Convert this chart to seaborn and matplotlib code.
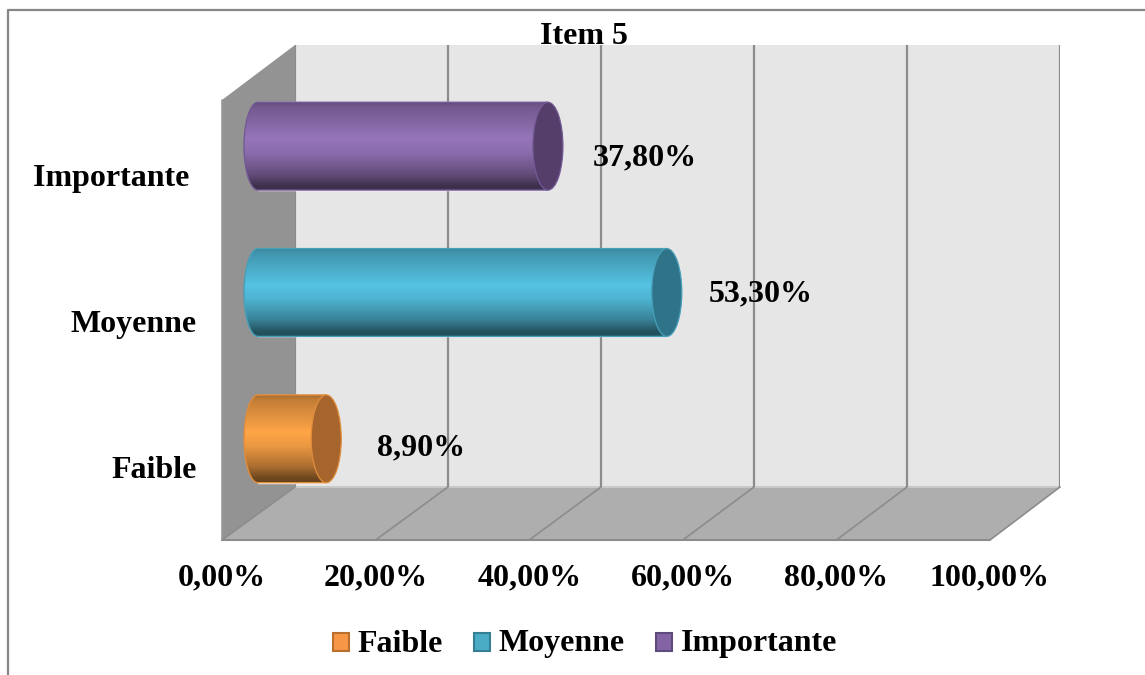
import numpy as np
import pandas as pd
import seaborn as sns
import matplotlib
matplotlib.use("Agg")
import matplotlib.pyplot as plt
from matplotlib.colors import LinearSegmentedColormap
from matplotlib.lines import Line2D
from matplotlib.patches import Polygon, Ellipse, Patch

title = "Item 5"
categories = ["Importante", "Moyenne", "Faible"]
values = [37.8, 53.3, 8.9]
axis_ticks = [0, 20, 40, 60, 80, 100]
legend_order = ["Faible", "Moyenne", "Importante"]

W, H = 1145, 675
FS = 23
GRID = "#8c8c8c"
colors = {"Importante": "#9675ba", "Moyenne": "#55c3e3", "Faible": "#ffa547"}
caps = {"Importante": "#553f6a", "Moyenne": "#2f7389", "Faible": "#a5652c"}
edges = {"Importante": "#735a96", "Moyenne": "#479fb8", "Faible": "#e08c3e"}
swatch = {"Importante": "#8463a4", "Moyenne": "#4bacc6", "Faible": "#f79646"}
swatch_e = {"Importante": "#5f4a7c", "Moyenne": "#357f94", "Faible": "#b9702f"}

sns.set_theme(style="white")
plt.rcParams["font.family"] = ["Liberation Serif", "DejaVu Serif"]
plt.rcParams["font.weight"] = "bold"

fig = plt.figure(figsize=(W / 100, H / 100), dpi=100)
fig.patch.set_facecolor("white")


def box(l, t, r, b):
    return [l / W, 1 - b / H, (r - l) / W, (b - t) / H]


# ---- room (walls and floor), in pixel coordinates
bg = fig.add_axes([0, 0, 1, 1], zorder=0)
bg.set_xlim(0, W)
bg.set_ylim(H, 0)
bg.axis("off")
bg.add_patch(Polygon([(295, 45), (1060, 45), (1060, 487), (295, 487)], fc="#e6e6e6", ec="none"))
bg.add_patch(Polygon([(222, 100), (295, 45), (295, 487), (222, 540)], fc="#939393", ec="none"))
bg.add_patch(Polygon([(222, 540), (295, 487), (1060, 487), (990, 540)], fc="#aeaeae", ec="none"))
bg.plot([295, 1060], [487, 487], color="#c9c9c9", lw=1.4)
bg.plot([222, 990], [540, 540], color=GRID, lw=1.5)
bg.plot([222, 222], [100, 540], color="#9a9a9a", lw=1.2)
for v in axis_ticks:
    bg.plot([222 + v * 7.68, 295 + v * 7.65], [540, 487], color=GRID, lw=1.2)

# ---- frame of the picture
fig.add_artist(Line2D([7.5 / W, 7.5 / W, 1], [0, 1 - 10 / H, 1 - 10 / H], color="#868686", lw=1.6))

# ---- gridlines on the back wall
back = fig.add_axes(box(295, 45, 1060, 487), zorder=1, facecolor="none")
back.set_xlim(0, 100)
back.set_xticks(axis_ticks)
back.set_yticks([])
back.tick_params(length=0, labelbottom=False)
back.grid(axis="x", color=GRID, lw=1.6)
sns.despine(ax=back, left=True, bottom=True)

# ---- axis labels on the front edge of the floor
front = fig.add_axes(box(222, 102, 990, 540), zorder=2, facecolor="none")
front.set_xlim(0, 100)
front.set_ylim(2.5, -0.5)
front.set_xticks(axis_ticks)
front.set_xticklabels([f"{t:.2f}".replace(".", ",") + "%" for t in axis_ticks],
                      fontsize=FS, fontweight="bold", color="black")
front.set_yticks(range(len(categories)))
front.set_yticklabels([c + " " if c == "Importante" else c for c in categories],
                      fontsize=FS, fontweight="bold", color="black")
front.tick_params(axis="x", length=0, pad=17)
front.tick_params(axis="y", length=0, pad=18)
sns.despine(ax=front, left=True, bottom=True)

# ---- bars
ax = fig.add_axes(box(222, 73, 1060, 512), zorder=3, facecolor="none")
df = pd.DataFrame({"cat": categories, "val": values})
sns.barplot(data=df, y="cat", x="val", hue="cat", order=categories, hue_order=categories,
            palette=colors, dodge=False, legend=False, width=0.6, ax=ax)
ax.set_xlim(-4.69, 104.56)
ax.set_ylim(2.5, -0.5)
ax.axis("off")

RX = 15 / 7.67  # half width of a cylinder end, in value units
stops = [(0.0, 0.66), (0.05, 0.76), (0.42, 1.0), (0.58, 0.92), (0.82, 0.66), (0.95, 0.42), (1.0, 0.40)]
theta = np.linspace(np.pi / 2, 3 * np.pi / 2, 40)
for container, cat in zip(ax.containers, categories):
    for bar in container:
        x1 = bar.get_x() + bar.get_width()
        y0, h = bar.get_y(), bar.get_height()
        yc = y0 + h / 2
        rgb = np.array(matplotlib.colors.to_rgb(colors[cat]))
        cmap = LinearSegmentedColormap.from_list(cat, [(p, tuple(rgb * f)) for p, f in stops])
        pts = np.column_stack([RX * 0.93 * np.cos(theta), yc - h / 2 * np.sin(theta)])
        pts = np.vstack([[[x1, y0]], pts, [[x1, y0 + h]]])
        body = Polygon(pts, closed=True, transform=ax.transData, fc="none", ec=edges[cat], lw=1.0, zorder=5)
        ax.add_patch(body)
        im = ax.imshow(np.linspace(0, 1, 256)[:, None], cmap=cmap, aspect="auto", zorder=4,
                       extent=(-RX, x1, y0 + h, y0), interpolation="bilinear")
        im.set_clip_path(body)
        ax.add_patch(Ellipse((x1, yc), 2 * RX, h, fc=caps[cat], ec=edges[cat], lw=0.9, zorder=6))
ax.set_xlim(-4.69, 104.56)
ax.set_ylim(2.5, -0.5)

# ---- value labels
nudges = {"Importante": (97, -12), "Moyenne": (94, -1.5), "Faible": (95, -9.5)}
for cat, v in zip(categories, values):
    ax.annotate(f"{v:.2f}".replace(".", ",") + "%", xy=(v, categories.index(cat)),
                xytext=nudges[cat], textcoords="offset pixels",
                ha="center", va="center",
                fontsize=FS, fontweight="bold", color="black", zorder=7)

# ---- title and legend
fig.text(583.5 / W, 1 - 36 / H, title, ha="center", va="center", fontsize=FS,
         fontweight="bold", color="black", zorder=10)
handles = [Patch(fc=swatch[c], ec=swatch_e[c], lw=1.5, label=c) for c in legend_order]
leg = fig.legend(handles=handles, loc="center", bbox_to_anchor=(585 / W, 1 - 644 / H), ncol=3,
                 frameon=False, handlelength=0.5, handleheight=0.5, handletextpad=0.25,
                 columnspacing=1.0, borderpad=0, labelcolor="black",
                 prop={"family": "Liberation Serif", "weight": "bold", "size": FS})
for patch in leg.legend_handles:
    patch.set_y(patch.get_y() - 1.5)

fig.savefig("out.png", dpi=100)
